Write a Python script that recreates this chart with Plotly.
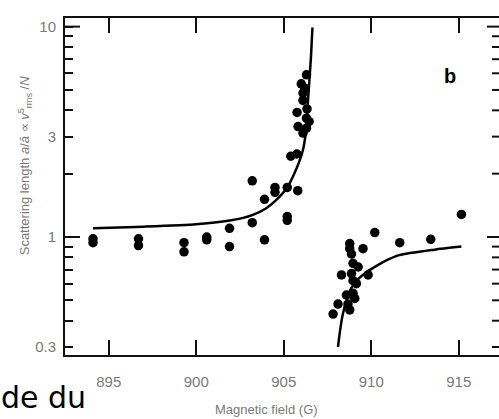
import plotly.graph_objects as go

# Measured points: below resonance
left_field = [894.1, 894.1, 896.7, 896.7, 899.3, 899.3, 900.6, 900.6, 901.9, 901.9,
              903.2, 903.2, 903.9, 903.9, 904.5, 904.5, 905.2, 905.2, 905.2, 905.8,
              905.4, 905.75, 905.76, 905.82, 906.1, 906.3, 906.45, 906.3, 906.33,
              906.1, 906.1, 906.2, 906.0, 906.3]
left_val = [0.98, 0.94, 0.98, 0.91, 0.94, 0.85, 1.00, 0.97, 1.10, 0.90,
            1.85, 1.17, 1.51, 0.97, 1.72, 1.63, 1.72, 1.25, 1.20, 1.66,
            2.42, 2.48, 3.91, 3.35, 3.12, 3.29, 3.54, 3.67, 4.06,
            4.46, 4.83, 5.10, 5.35, 5.90]

# Measured points: above resonance
right_field = [907.82, 908.1, 908.77, 908.67, 908.58, 908.96, 909.06, 908.96, 909.15,
               908.3, 908.87, 909.82, 908.96, 909.25, 908.87, 908.77, 909.53, 908.77,
               910.2, 911.63, 913.4, 915.15]
right_val = [0.43, 0.48, 0.45, 0.48, 0.53, 0.54, 0.51, 0.62, 0.60,
             0.66, 0.67, 0.66, 0.75, 0.72, 0.83, 0.88, 0.88, 0.93,
             1.05, 0.94, 0.975, 1.28]

# Theory curve
curve1_field = [894.1, 897.0, 900.0, 902.0, 903.2, 904.0, 904.5, 905.2, 905.6, 905.9,
                906.1, 906.25, 906.39, 906.48, 906.56, 906.64]
curve1_val = [1.10, 1.12, 1.15, 1.20, 1.27, 1.37, 1.48, 1.72, 2.0, 2.3,
              2.6, 3.1, 4.5, 5.8, 7.3, 9.9]
curve2_field = [908.1, 908.2, 908.35, 908.58, 908.85, 909.25, 909.72, 910.2, 910.67,
                911.6, 913.6, 915.15]
curve2_val = [0.30, 0.35, 0.42, 0.50, 0.57, 0.63, 0.68, 0.72, 0.76,
              0.82, 0.87, 0.90]

x_ticks = [895, 900, 905, 910, 915]
y_ticks = [0.3, 0.4, 0.5, 0.6, 0.7, 0.8, 0.9, 1, 2, 3, 4, 5, 6, 7, 8, 9, 10]
y_tick_text = ["0.3", "", "", "", "", "", "", "1", "", "3", "", "", "", "", "", "", "10"]
y_decades = [1, 10]

fig = go.Figure()
fig.add_trace(go.Scatter(x=curve1_field, y=curve1_val, mode="lines",
                         line=dict(color="black", width=2.5, shape="spline", smoothing=0.6),
                         showlegend=False, hoverinfo="skip"))
fig.add_trace(go.Scatter(x=curve2_field, y=curve2_val, mode="lines",
                         line=dict(color="black", width=2.5, shape="spline", smoothing=0.6),
                         showlegend=False, hoverinfo="skip"))
fig.add_trace(go.Scatter(x=left_field + right_field, y=left_val + right_val, mode="markers",
                         marker=dict(color="black", size=9.5),
                         showlegend=False))

gray = "#7a7a7a"
tk = "#111"
plot_w = 499 - 65
shapes = []
# longer decade ticks on the left
for v in y_decades:
    shapes.append(dict(type="line", xref="paper", yref="y", x0=0, x1=15 / plot_w,
                       y0=v, y1=v, line=dict(color=tk, width=2)))
# right-hand ticks (the right frame line lies outside the picture)
for v in y_ticks:
    ln = 12 if v in y_decades else 7
    shapes.append(dict(type="line", xref="paper", yref="y", x0=1 - ln / plot_w, x1=1,
                       y0=v, y1=v, line=dict(color=tk, width=2)))

fig.update_layout(
    width=499, height=419,
    margin=dict(l=65, r=0, t=18, b=64),
    paper_bgcolor="white", plot_bgcolor="white",
    font=dict(family="Liberation Sans, Arial, sans-serif", color=gray),
    xaxis=dict(range=[892.5, 917.3], tickvals=x_ticks, ticks="inside", ticklen=15,
               tickwidth=2, tickcolor=tk, showline=True, linewidth=2, linecolor=tk,
               mirror="ticks", showgrid=False, zeroline=False,
               tickfont=dict(size=15, color=gray), ticklabelstandoff=12),
    yaxis=dict(type="log", range=[-0.561, 1.041], tickvals=y_ticks, ticktext=y_tick_text,
               ticks="inside", ticklen=8, tickwidth=2, tickcolor=tk,
               showline=True, linewidth=2, linecolor=tk, mirror=False,
               showgrid=False, zeroline=False, tickfont=dict(size=15, color=gray),
               ticklabelstandoff=4),
    shapes=shapes,
    annotations=[
        dict(text="<b>b</b>", xref="paper", yref="paper", x=(450 - 65) / plot_w,
             y=(355 - 76) / 337, xanchor="center", yanchor="middle",
             showarrow=False, font=dict(size=20, color="black")),
        dict(text="Magnetic field (G)", xref="paper", yref="paper", x=0.465, y=-0.163,
             xanchor="center", yanchor="middle",
             showarrow=False, font=dict(size=13, color=gray)),
        dict(text="Scattering length <i>a</i>/<i>ā</i> ∝ <i>v</i><sup>5</sup><sub>rms</sub> /<i>N</i>",
             xref="paper", yref="paper", x=(25 - 65) / plot_w, y=0.56, textangle=-90,
             xanchor="center", yanchor="middle",
             showarrow=False, font=dict(size=13, color=gray)),
        dict(text="de du", xref="paper", yref="paper", x=-0.152, y=-0.125,
             xanchor="left", yanchor="middle", showarrow=False,
             font=dict(family="DejaVu Sans", size=30, color="black")),
    ],
)

fig.write_html("out.html")
